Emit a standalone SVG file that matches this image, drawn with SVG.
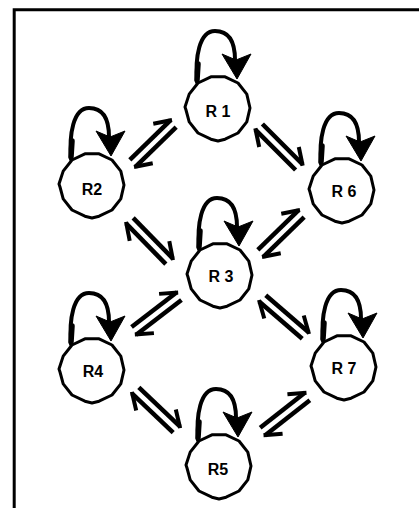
<svg xmlns="http://www.w3.org/2000/svg" xmlns:xlink="http://www.w3.org/1999/xlink" width="419" height="508" viewBox="0 0 419 508">
<style>
.ring{fill:#fff;stroke:#000;stroke-width:3;stroke-linejoin:round}
.loop{fill:none;stroke:#000;stroke-width:4;stroke-linecap:round;stroke-linejoin:round}
.head{fill:#000;stroke:#000;stroke-width:1;stroke-linejoin:miter}
.hp{fill:none;stroke:#000;stroke-width:4.5;stroke-linecap:butt}
.lbl{font-family:"Liberation Sans",Arial,sans-serif;font-weight:bold;font-size:16px;text-anchor:middle;fill:#000}
</style>
<defs>
<polygon id="ring" class="ring" points="32,0 28.8,13.9 20,25 7.1,31.2 0,33 -7.1,31.2 -20,25 -28.8,13.9 -32,2 -33,-1 -28.8,-13.9 -20,-25 -7.1,-31.2 7.1,-31.2 20,-25 28.8,-13.9"/>
<g id="loop">
<path class="loop" d="M -21,-26 C -23,-50 -19,-77 -3,-77 C 12,-77 17,-64 17,-48"/>
<path class="loop" d="M -21,-28 L -20,-44" style="stroke-width:5.5"/>
<polygon class="head" points="19,-29 4,-54 18,-48 33,-54"/>
</g>
<g id="pair">
<line class="hp" x1="-28" y1="-4.5" x2="29" y2="-4.5"/>
<line class="hp" x1="30" y1="-3.5" x2="14" y2="-14" style="stroke-width:4"/>
<line class="hp" x1="28" y1="4.5" x2="-29" y2="4.5"/>
<line class="hp" x1="-30" y1="3.5" x2="-14" y2="14" style="stroke-width:4"/>
</g>
</defs>
<rect width="419" height="508" fill="#fff"/>
<path d="M 14.2,508 V 9.7 H 419" fill="none" stroke="#000" stroke-width="3"/>
<g id="connectors">
<use xlink:href="#pair" href="#pair" transform="translate(153,143.5) rotate(-44.3)"/>
<use xlink:href="#pair" href="#pair" transform="translate(279,147) rotate(45)"/>
<use xlink:href="#pair" href="#pair" transform="translate(149.5,241) rotate(45.7)"/>
<use xlink:href="#pair" href="#pair" transform="translate(281,233.5) rotate(-44.3)"/>
<use xlink:href="#pair" href="#pair" transform="translate(156.5,313.5) rotate(-37.5)"/>
<use xlink:href="#pair" href="#pair" transform="translate(284,317) rotate(40.8)"/>
<use xlink:href="#pair" href="#pair" transform="translate(156,410) rotate(43.6)"/>
<use xlink:href="#pair" href="#pair" transform="translate(285,414) rotate(-38)"/>
</g>
<g id="R1" transform="translate(218,108)">
<use xlink:href="#loop" href="#loop"/><use xlink:href="#ring" href="#ring"/>
<text class="lbl" x="0" y="9">R 1</text>
</g>
<g id="R2" transform="translate(92,185)">
<use xlink:href="#loop" href="#loop"/><use xlink:href="#ring" href="#ring"/>
<text class="lbl" x="0" y="10">R2</text>
</g>
<g id="R6" transform="translate(342,190)">
<use xlink:href="#loop" href="#loop"/><use xlink:href="#ring" href="#ring"/>
<text class="lbl" x="2" y="7">R 6</text>
</g>
<g id="R3" transform="translate(220,275)">
<use xlink:href="#loop" href="#loop"/><use xlink:href="#ring" href="#ring"/>
<text class="lbl" x="1" y="7">R 3</text>
</g>
<g id="R4" transform="translate(92,370)">
<use xlink:href="#loop" href="#loop"/><use xlink:href="#ring" href="#ring"/>
<text class="lbl" x="1" y="7">R4</text>
</g>
<g id="R7" transform="translate(344,367)">
<use xlink:href="#loop" href="#loop"/><use xlink:href="#ring" href="#ring"/>
<text class="lbl" x="0" y="7">R 7</text>
</g>
<g id="R5" transform="translate(219,466)">
<use xlink:href="#loop" href="#loop"/><use xlink:href="#ring" href="#ring"/>
<text class="lbl" x="-1" y="9">R5</text>
</g>
</svg>
